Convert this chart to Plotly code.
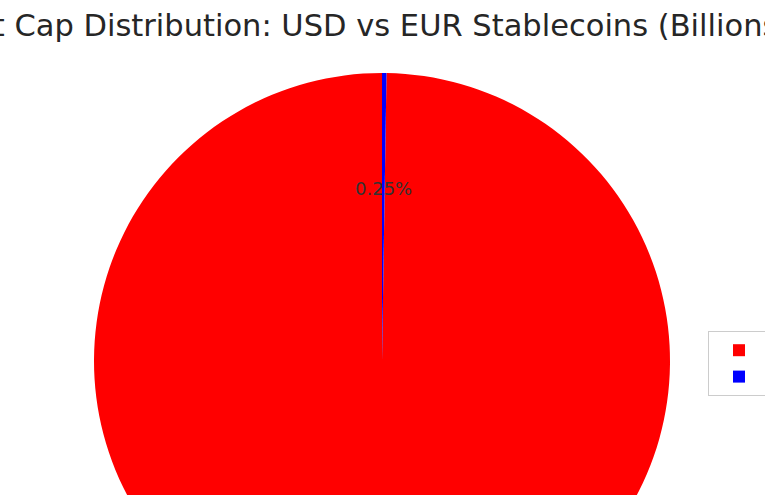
import math
import plotly.graph_objects as go

# Data (billions USD)
labels = ["USD Stablecoins", "EUR Stablecoins"]
market_caps = [199.5, 0.5]
colors = ["#ff0000", "#0000ff"]
title_text = "Market Cap Distribution: USD vs EUR Stablecoins (Billions USD)"

W, H = 765, 700
cx, cy, r = 382, 361, 288  # pie geometry in pixels (layout only)
pct_distance = 0.6

total = sum(market_caps)
# start the first slice so that the slices run counterclockwise from 12 o'clock
# (first slice's left edge at 12 o'clock), as in the reference
rotation = 360 * (total - market_caps[0]) / total

fig = go.Figure(
    go.Pie(
        labels=labels,
        values=market_caps,
        marker=dict(colors=colors, line=dict(width=0)),
        sort=False,
        direction="clockwise",
        rotation=rotation,
        textinfo="none",
        hoverinfo="label+value+percent",
        domain=dict(x=[(cx - r) / W, (cx + r) / W],
                    y=[1 - (cy + r) / H, 1 - (cy - r) / H]),
    )
)

# percentage labels placed at 0.6 of the radius on each slice's bisector
start = 0.0
for v in market_caps:
    frac = v / total
    mid = math.radians(rotation + (start + frac / 2) * 360)  # clockwise from 12 o'clock
    px = cx + pct_distance * r * math.sin(mid)
    py = cy - pct_distance * r * math.cos(mid)
    fig.add_annotation(x=px / W, y=1 - py / H, xref="paper", yref="paper",
                       text=f"{frac * 100:.2f}%", showarrow=False,
                       xanchor="center", yanchor="middle",
                       font=dict(family="DejaVu Sans", size=18, color="#333333"))
    start += frac

fig.update_layout(
    width=W,
    height=H,
    margin=dict(l=0, r=0, t=0, b=0, autoexpand=False),
    paper_bgcolor="white",
    font=dict(family="DejaVu Sans", color="#262626"),
    title=dict(text=title_text, x=0.5, xanchor="center", xref="container",
               y=1 - 25 / H, yanchor="middle", yref="container",
               font=dict(size=30.5, color="#262626")),
    legend=dict(x=708 / W, xanchor="left", y=1 - 331 / H, yanchor="top",
                bordercolor="#cccccc", borderwidth=1, bgcolor="white",
                itemwidth=50, font=dict(size=18)),
    showlegend=True,
)

fig.write_html("out.html", config={"displayModeBar": False},
               post_script="document.body.style.margin='0';document.body.style.overflow='hidden';")
